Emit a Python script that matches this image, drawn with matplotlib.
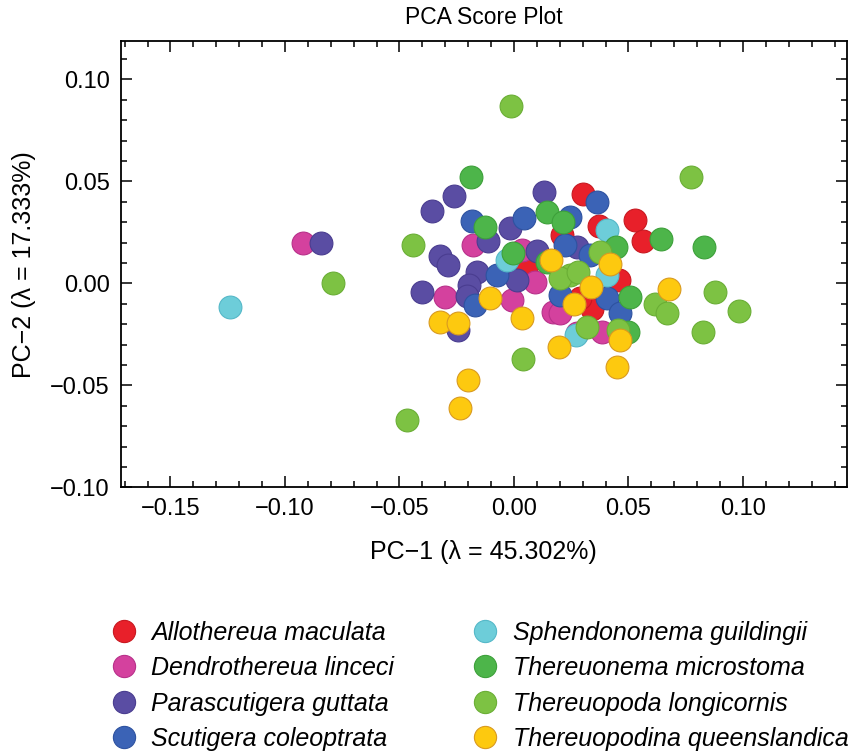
import matplotlib
matplotlib.use("Agg")
import matplotlib.pyplot as plt
from matplotlib.ticker import MultipleLocator, FuncFormatter
from matplotlib.lines import Line2D

plt.rcParams['font.family'] = ['Liberation Sans', 'DejaVu Sans']
plt.rcParams['axes.unicode_minus'] = True

species = ["Allothereua maculata", "Dendrothereua linceci", "Parascutigera guttata",
           "Scutigera coleoptrata", "Sphendononema guildingii", "Thereuonema microstoma",
           "Thereuopoda longicornis", "Thereuopodina queenslandica"]
colors = ["#E8202A", "#D4419E", "#5A4DA3", "#3B63B6", "#6DCDD9", "#4DB54A", "#7DC243", "#FDC90F"]
edges = ["#C81820", "#B8308A", "#4A3D90", "#2E52A0", "#55B8C8", "#3DA03A", "#6AAE35", "#D99A20"]

red_x = [0.0301, 0.0528, 0.0371, 0.0563, 0.0210, 0.0057, 0.0459, 0.0341, 0.0288]
red_y = [0.0438, 0.0310, 0.0281, 0.0207, 0.0237, 0.0090, 0.0016, -0.0126, -0.0072]

mag_x = [-0.0921, -0.0179, 0.0092, -0.0301, -0.0009, 0.0170, 0.0275, 0.0384, 0.0201, 0.0035]
mag_y = [0.0198, 0.0188, 0.0006, -0.0067, -0.0082, -0.0141, -0.0244, -0.0239, -0.0146, 0.0163]

pur_x = [-0.0843, -0.0262, -0.0358, 0.0131, -0.0114, -0.0017, -0.0323, -0.0288, 0.0100,
         -0.0162, 0.0013, -0.0402, -0.0197, -0.0205, -0.0245, 0.0275]
pur_y = [0.0198, 0.0428, 0.0354, 0.0448, 0.0207, 0.0271, 0.0134, 0.0090, 0.0158,
         0.0055, 0.0016, -0.0043, -0.0008, -0.0062, -0.0229, 0.0178]

blu_x = [-0.0183, 0.0044, 0.0245, 0.0362, 0.0223, 0.0332, -0.0074, -0.0170, 0.0201, 0.0406, 0.0463]
blu_y = [0.0305, 0.0320, 0.0325, 0.0399, 0.0188, 0.0139, 0.0041, -0.0106, -0.0057, -0.0072, -0.0146]

cya_x = [-0.1240, 0.0406, -0.0031, 0.0406, 0.0271]
cya_y = [-0.0116, 0.0261, 0.0114, 0.0041, -0.0253]

grn_x = [-0.0188, -0.0127, 0.0144, 0.0214, -0.0004, 0.0642, 0.0830, 0.0445, 0.0507, 0.0498, 0.0144]
grn_y = [0.0521, 0.0276, 0.0350, 0.0300, 0.0149, 0.0217, 0.0178, 0.0178, -0.0067, -0.0239, 0.0104]

lgr_x = [-0.0013, -0.0790, -0.0467, 0.0039, 0.0773, -0.0441, 0.0878, 0.0983, 0.0825, 0.0616,
         0.0668, 0.0319, 0.0454, 0.0376, 0.0245, 0.0201, 0.0279]
lgr_y = [0.0869, 0.0001, -0.0670, -0.0371, 0.0521, 0.0188, -0.0043, -0.0136, -0.0239, -0.0101,
         -0.0146, -0.0214, -0.0229, 0.0153, 0.0041, 0.0026, 0.0055]

yel_x = [-0.0236, -0.0201, 0.0197, 0.0450, 0.0463, 0.0419, 0.0336, 0.0677, 0.0262, -0.0105,
         -0.0323, -0.0245, 0.0035, 0.0162]
yel_y = [-0.0611, -0.0474, -0.0312, -0.0410, -0.0278, 0.0095, -0.0018, -0.0028, -0.0101, -0.0072,
         -0.0190, -0.0195, -0.0170, 0.0114]

xs = [red_x, mag_x, pur_x, blu_x, cya_x, grn_x, lgr_x, yel_x]
ys = [red_y, mag_y, pur_y, blu_y, cya_y, grn_y, lgr_y, yel_y]

fig = plt.figure(figsize=(8.56, 7.54), dpi=100)
ax = fig.add_axes([121/856, 1-487.3/754, (846.7-121)/856, (487.3-41)/754])

for x, y, c, e in zip(xs, ys, colors, edges):
    ax.scatter(x, y, s=270, c=c, edgecolors=e, linewidths=0.8, zorder=3)

ax.set_xlim(-0.1716, 0.1453)
ax.set_ylim(-0.100, 0.1188)
ax.xaxis.set_major_locator(MultipleLocator(0.05))
ax.xaxis.set_minor_locator(MultipleLocator(0.01))
ax.yaxis.set_major_locator(MultipleLocator(0.05))
ax.yaxis.set_minor_locator(MultipleLocator(0.01))
fmt = FuncFormatter(lambda v, p: ("%.2f" % (0.0 if abs(v) < 1e-9 else v)).replace('-', '\u2212'))
ax.xaxis.set_major_formatter(fmt)
ax.yaxis.set_major_formatter(fmt)
ax.tick_params(which='both', direction='in', top=True, right=True, labelsize=17, width=1.1)
ax.tick_params(which='major', length=8, pad=8)
ax.tick_params(which='minor', length=4.5)
for sp in ax.spines.values():
    sp.set_linewidth(1.3)

ax.set_title("PCA Score Plot", fontsize=16.5, pad=12)
ax.set_xlabel("PC\u22121 (\u03bb = 45.302%)", fontsize=18, labelpad=14)
ax.set_ylabel("PC\u22122 (\u03bb = 17.333%)", fontsize=18, labelpad=10)

handles = [Line2D([], [], marker='o', linestyle='none', markersize=16,
                  markerfacecolor=c, markeredgecolor=e, markeredgewidth=0.8)
           for c, e in zip(colors, edges)]
fig.legend(handles, species, loc='upper left', bbox_to_anchor=(0.13, 0.177), ncol=2,
           frameon=False, prop={'style': 'italic', 'size': 18}, handlelength=1.0,
           handletextpad=0.6, columnspacing=3.15, labelspacing=0.46, borderpad=0,
           borderaxespad=0)

fig.savefig("out.png", dpi=100)
